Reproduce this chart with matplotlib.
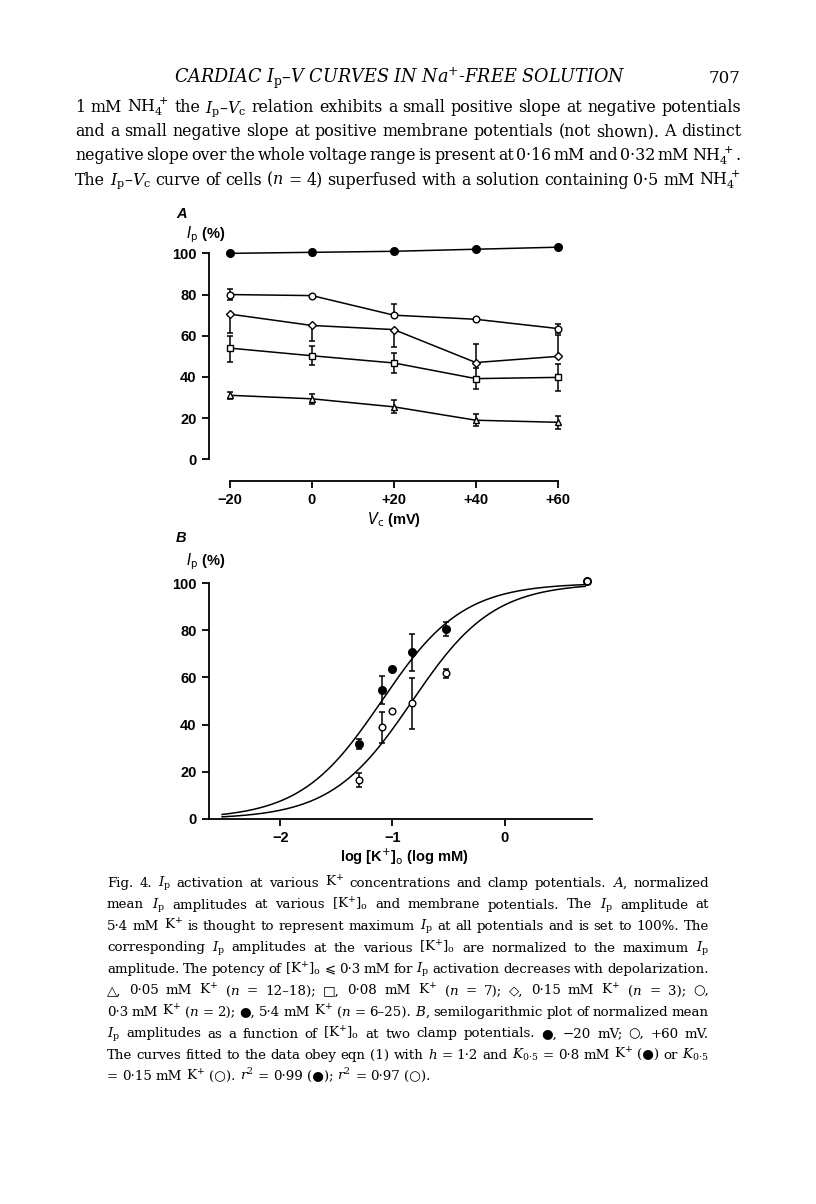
import numpy as np
import matplotlib
matplotlib.use("Agg")
import matplotlib.pyplot as plt

W, H = 816, 1204

# ---- panel A data : Ip (%) vs clamp potential, one series per [K+]o
vc = [-20, 0, 20, 40, 60]
a_54 = [100, 100.5, 101, 102, 103]                  # 5.4 mM, filled circles
a_03 = [80, 79.5, 70, 68, 63.5]                     # 0.3 mM, open circles
a_03_lo = [2.8, 0, 0, 0, 2.4]
a_03_hi = [2.8, 0, 5.5, 0, 2.4]
a_015 = [70.5, 65, 63, 47, 50]                      # 0.15 mM, diamonds
a_015_lo = [9, 7.7, 8.4, 0, 0]
a_015_hi = [0, 0, 0, 8.8, 10.5]
a_008 = [54, 50.3, 46.8, 39.2, 39.8]                # 0.08 mM, squares
a_008_lo = [6.7, 4.7, 5, 5, 6.6]
a_008_hi = [5.7, 4.7, 5, 5, 6.6]
a_005 = [31.1, 29.4, 25.5, 19, 18]                  # 0.05 mM, triangles
a_005_err = [1.8, 2.4, 3.2, 2.8, 3.2]

# ---- panel B data : Ip (%) vs log [K+]o at -20 mV (filled) and +60 mV (open)
k_conc = [0.05, 0.08, 0.1, 0.15, 0.3, 5.4]
b_m20 = [31.8, 54.6, 63.5, 70.6, 80.4, 100.8]
b_m20_err = [2.3, 6, 0, 7.7, 3, 0]
b_p60 = [16.6, 38.9, 45.8, 49, 61.7, 100.8]
b_p60_err = [3, 6.5, 0, 10.8, 2, 0]
# fitted curves, eqn (1): h and K0.5 (mM) for -20 mV and +60 mV
hill_h = 1.2
k_half = [0.08, 0.15]

fig = plt.figure(figsize=(W / 100, H / 100), dpi=100)
fig.patch.set_facecolor("white")

SERIF = ["DejaVu Serif", "DejaVu Sans"]
SANS = ["Liberation Sans", "DejaVu Sans"]


def fx(px):
    return px / W


def fy(py):
    return 1 - py / H


def put_line(words, y, x0, x1, size, justify=True, **kw):
    texts = [fig.text(0, fy(y), w, fontsize=size, va="baseline", ha="left",
                      family=SERIF, math_fontfamily="dejavuserif", **kw)
             for w in words]
    r = fig.canvas.get_renderer()
    widths = [t.get_window_extent(r).width for t in texts]
    if justify and len(words) > 1:
        gap = (x1 - x0 - sum(widths)) / (len(words) - 1)
    else:
        gap = size * 100 / 72 * 0.3
    x = x0
    for t, w in zip(texts, widths):
        t.set_x(fx(x))
        x += w + gap


# ---- running head and body text
fig.text(fx(400), fy(83), r"CARDIAC $I_\mathrm{p}$–$V$ CURVES IN Na$^{+}$-FREE SOLUTION",
         fontsize=12.7, style="italic", ha="center", va="baseline", family=SERIF,
         math_fontfamily="dejavuserif")
fig.text(fx(741), fy(83), "707", fontsize=12, ha="right", va="baseline", family=SERIF)

body = [
    r"1 mM NH$_4^{\,+}$ the $I_\mathrm{p}$–$V_\mathrm{c}$ relation exhibits a small positive slope at negative potentials",
    "and a small negative slope at positive membrane potentials (not shown). A distinct",
    r"negative slope over the whole voltage range is present at 0·16 mM and 0·32 mM NH$_4^{\,+}$.",
    r"The $I_\mathrm{p}$–$V_\mathrm{c}$ curve of cells ($n$ = 4) superfused with a solution containing 0·5 mM NH$_4^{\,+}$",
]
for i, line in enumerate(body):
    put_line(line.split(" "), 112 + 24.2 * i, 75, 741, 11.4)

caption = [
    r"Fig. 4. $I_\mathrm{p}$ activation at various K$^{+}$ concentrations and clamp potentials. $A$, normalized",
    r"mean $I_\mathrm{p}$ amplitudes at various [K$^{+}$]$_\mathrm{o}$ and membrane potentials. The $I_\mathrm{p}$ amplitude at",
    r"5·4 mM K$^{+}$ is thought to represent maximum $I_\mathrm{p}$ at all potentials and is set to 100%. The",
    r"corresponding $I_\mathrm{p}$ amplitudes at the various [K$^{+}$]$_\mathrm{o}$ are normalized to the maximum $I_\mathrm{p}$",
    r"amplitude. The potency of [K$^{+}$]$_\mathrm{o}$ ⩽ 0·3 mM for $I_\mathrm{p}$ activation decreases with depolarization.",
    r"△, 0·05 mM K$^{+}$ ($n$ = 12–18); □, 0·08 mM K$^{+}$ ($n$ = 7); ◇, 0·15 mM K$^{+}$ ($n$ = 3); ○,",
    r"0·3 mM K$^{+}$ ($n$ = 2); ●, 5·4 mM K$^{+}$ ($n$ = 6–25). $B$, semilogarithmic plot of normalized mean",
    r"$I_\mathrm{p}$ amplitudes as a function of [K$^{+}$]$_\mathrm{o}$ at two clamp potentials. ●, −20 mV; ○, +60 mV.",
    r"The curves fitted to the data obey eqn (1) with $h$ = 1·2 and $K_{0{\cdot}5}$ = 0·8 mM K$^{+}$ (●) or $K_{0{\cdot}5}$",
    r"= 0·15 mM K$^{+}$ (○). $r^2$ = 0·99 (●); $r^2$ = 0·97 (○).",
]
for i, line in enumerate(caption):
    put_line(line.split(" "), 887 + 21.5 * i, 107, 709, 9.6,
             justify=(i < len(caption) - 1))

# ---- panel A
axA = fig.add_axes([fx(209), fy(481), fx(566) - fx(209), fy(241) - fy(481)])
axA.set_xlim(-25.1, 62)
axA.set_ylim(-10.5, 106)
lw = 1.1
axA.plot(vc, a_54, "-o", color="black", lw=lw, ms=5.5, zorder=4, clip_on=False)
axA.errorbar(vc, a_03, yerr=[a_03_lo, a_03_hi], fmt="none", ecolor="black",
             elinewidth=lw, capsize=2.5, capthick=lw, zorder=2)
axA.plot(vc, a_03, "-o", color="black", mfc="white", lw=lw, ms=4.8, zorder=4)
axA.errorbar(vc, a_015, yerr=[a_015_lo, a_015_hi], fmt="none", ecolor="black",
             elinewidth=lw, capsize=2.5, capthick=lw, zorder=2)
axA.plot(vc, a_015, "-D", color="black", mfc="white", lw=lw, ms=4, zorder=4)
axA.errorbar(vc, a_008, yerr=[a_008_lo, a_008_hi], fmt="none", ecolor="black",
             elinewidth=lw, capsize=2.5, capthick=lw, zorder=2)
axA.plot(vc, a_008, "-s", color="black", mfc="white", lw=lw, ms=4, zorder=4)
axA.errorbar(vc, a_005, yerr=a_005_err, fmt="none", ecolor="black",
             elinewidth=lw, capsize=2.5, capthick=lw, zorder=2)
axA.plot(vc, a_005, "-^", color="black", mfc="white", lw=lw, ms=5, zorder=4)

for s in ["top", "right"]:
    axA.spines[s].set_visible(False)
axA.spines["left"].set_bounds(0, 100)
axA.spines["bottom"].set_bounds(-20, 60)
for s in ["left", "bottom"]:
    axA.spines[s].set_linewidth(1.3)
axA.set_yticks([0, 20, 40, 60, 80, 100])
axA.set_xticks(vc)
axA.set_xticklabels(["−20", "0", "+20", "+40", "+60"])
axA.tick_params(direction="out", length=5, width=1.3, labelsize=10.5, pad=4)
for lab in axA.get_xticklabels() + axA.get_yticklabels():
    lab.set_fontweight("bold")
    lab.set_family(SANS)

# ---- panel B
axB = fig.add_axes([fx(209), fy(819), fx(592) - fx(209), fy(576) - fy(819)])
axB.set_xlim(-2.637, 0.78)
axB.set_ylim(0, 103)
# curves of eqn (1) with the fitted parameters given in the legend
xs = np.linspace(-2.52, 0.72, 300)
conc = 10 ** xs
for kh in k_half:
    axB.plot(xs, 100 / (1 + (kh / conc) ** hill_h), color="black", lw=lw, zorder=3)
lk = np.log10(k_conc)
axB.errorbar(lk, b_m20, yerr=b_m20_err, fmt="none", ecolor="black",
             elinewidth=lw, capsize=2.5, capthick=lw, zorder=2)
axB.plot(lk, b_m20, "o", color="black", ms=5.5, zorder=4, clip_on=False)
axB.errorbar(lk, b_p60, yerr=b_p60_err, fmt="none", ecolor="black",
             elinewidth=lw, capsize=2.5, capthick=lw, zorder=2)
axB.plot(lk, b_p60, "o", color="black", mfc="white", ms=4.8, zorder=5, clip_on=False)
for s in ["top", "right"]:
    axB.spines[s].set_visible(False)
axB.spines["left"].set_bounds(0, 100)
for s in ["left", "bottom"]:
    axB.spines[s].set_linewidth(1.3)
axB.set_yticks([0, 20, 40, 60, 80, 100])
axB.set_xticks([-2, -1, 0])
axB.set_xticklabels(["−2", "−1", "0"])
axB.tick_params(direction="out", length=5, width=1.3, labelsize=10.5, pad=4)
for lab in axB.get_xticklabels() + axB.get_yticklabels():
    lab.set_fontweight("bold")
    lab.set_family(SANS)

# ---- panel letters and axis labels
lab_kw = dict(fontsize=10.5, fontweight="bold", family=SANS,
              math_fontfamily="dejavusans", va="baseline")
fig.text(fx(176), fy(218), "A", style="italic", **lab_kw)
fig.text(fx(186), fy(238), r"$I_\mathrm{p}$ (%)", **lab_kw)
fig.text(fx(394), fy(524), r"$V_\mathrm{c}$ (mV)", ha="center", **lab_kw)
fig.text(fx(176), fy(542), "B", style="italic", **lab_kw)
fig.text(fx(186), fy(565), r"$I_\mathrm{p}$ (%)", **lab_kw)
fig.text(fx(404), fy(862), r"log [K$^{+}$]$_\mathrm{o}$ (log mM)", ha="center", **lab_kw)

fig.savefig("out.png", dpi=100)
